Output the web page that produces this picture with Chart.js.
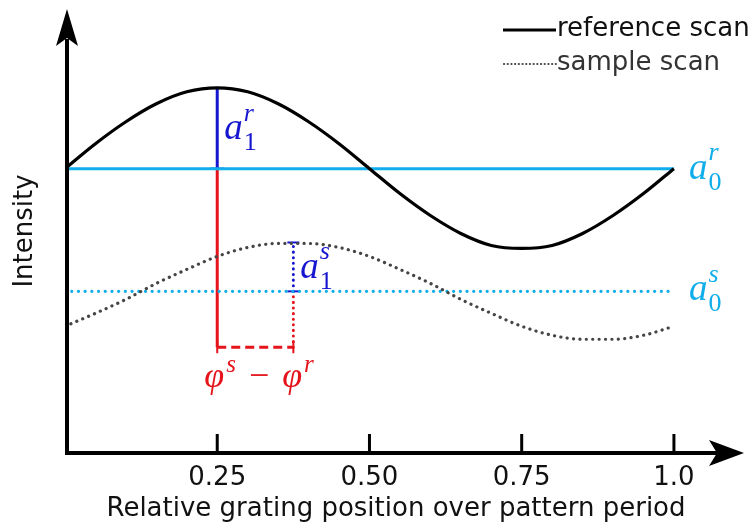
<!DOCTYPE html>
<html>
<head>
<meta charset="utf-8">
<title>Reference and sample scan</title>
<script src="https://cdn.jsdelivr.net/npm/chart.js@4.4.1/dist/chart.umd.min.js"></script>
<style>
    body { margin: 0; background: #ffffff; }
    #scanChart { display: block; }
</style>
</head>
<body>
<canvas id="scanChart" width="756" height="527"></canvas>
<script>
// Chart data
const scanPositions = [0, 0.05, 0.10, 0.15, 0.20, 0.25, 0.30, 0.35, 0.40, 0.45, 0.50,
                       0.55, 0.60, 0.65, 0.70, 0.75, 0.80, 0.85, 0.90, 0.95, 1.00];
const referenceScan = [2.85, 3.10, 3.32, 3.50, 3.62, 3.66, 3.62, 3.50, 3.32, 3.10, 2.85,
                       2.60, 2.38, 2.20, 2.08, 2.05, 2.08, 2.20, 2.38, 2.60, 2.85];
const sampleScan = [1.27, 1.40, 1.54, 1.70, 1.84, 1.97, 2.06, 2.10, 2.10, 2.06, 1.97,
                    1.84, 1.70, 1.54, 1.40, 1.27, 1.18, 1.14, 1.14, 1.18, 1.27];

// offset (a0) and peak (a0 + a1) levels: [reference, sample]
const offsetLevels = [2.85, 1.62];
const peakLevels = [3.66, 2.11];
const peakPositions = [0.25, 0.375];
const phaseLevel = 1.06;

const xTickValues = [0.25, 0.50, 0.75, 1.0];
const xTickLabels = ['0.25', '0.50', '0.75', '1.0'];
const legendLabels = ['reference scan', 'sample scan'];

// Colours
const CYAN = '#0fadea';
const BLUE = '#1616cf';
const RED = '#e5141b';
const SAMPLE_GREY = '#454545';
const SANS = '"DejaVu Sans", sans-serif';
const SERIF = '"Liberation Serif", "DejaVu Serif", serif';

/**
 * Build {x, y} points from two arrays
 */
function toPoints(xs, ys) {
    return xs.map((x, i) => ({ x: x, y: ys[i] }));
}

/**
 * Draw a symbol with sub- and superscript (e.g. a_0^r)
 */
function drawSymbol(ctx, x, baseline, base, sub, sup, color, size) {
    ctx.fillStyle = color;
    ctx.textAlign = 'left';
    ctx.textBaseline = 'alphabetic';
    ctx.font = 'italic ' + size + 'px ' + SERIF;
    ctx.fillText(base, x, baseline);
    const w = ctx.measureText(base).width;
    const small = Math.round(size * 0.7);
    if (sup) {
        ctx.font = 'italic ' + small + 'px ' + SERIF;
        ctx.fillText(sup, x + w + 1, baseline - size * 0.5);
    }
    if (sub) {
        ctx.font = small + 'px ' + SERIF;
        ctx.fillText(sub, x + w + 1, baseline + size * 0.3);
    }
}

// Axes, ticks, labels, legend and annotations
const decorations = {
    id: 'decorations',
    afterDatasetsDraw(chart) {
        const ctx = chart.ctx;
        const xs = chart.scales.x;
        const ys = chart.scales.y;
        const area = chart.chartArea;
        const ox = xs.getPixelForValue(0) + 2;
        const oy = ys.getPixelForValue(0);

        ctx.save();

        // axes
        ctx.strokeStyle = '#000';
        ctx.fillStyle = '#000';
        ctx.lineWidth = 4;
        ctx.lineJoin = 'miter';
        ctx.beginPath();
        ctx.moveTo(ox, area.top + 30);
        ctx.lineTo(ox, oy);
        ctx.lineTo(area.right - 30, oy);
        ctx.stroke();

        // arrow heads
        ctx.beginPath();
        ctx.moveTo(ox, area.top);
        ctx.lineTo(ox + 11, area.top + 37);
        ctx.lineTo(ox, area.top + 29);
        ctx.lineTo(ox - 11, area.top + 37);
        ctx.closePath();
        ctx.fill();
        const tipX = area.right - 3;
        ctx.beginPath();
        ctx.moveTo(tipX, oy);
        ctx.lineTo(tipX - 35, oy - 13);
        ctx.lineTo(tipX - 27, oy);
        ctx.lineTo(tipX - 35, oy + 13);
        ctx.closePath();
        ctx.fill();

        // ticks and tick labels
        ctx.lineWidth = 3;
        ctx.font = '26px ' + SANS;
        ctx.textAlign = 'center';
        ctx.textBaseline = 'middle';
        xTickValues.forEach((v, i) => {
            const px = xs.getPixelForValue(v);
            ctx.beginPath();
            ctx.moveTo(px, oy);
            ctx.lineTo(px, oy - 19);
            ctx.stroke();
            ctx.fillStyle = '#111';
            ctx.fillText(xTickLabels[i], px, oy + 25);
        });

        // axis titles
        ctx.fillStyle = '#111';
        ctx.fillText('Relative grating position over pattern period', 396, oy + 56);
        ctx.save();
        ctx.translate(25, (area.top + oy) / 2);
        ctx.rotate(-Math.PI / 2);
        ctx.fillText('Intensity', 0, 0);
        ctx.restore();

        // legend
        ctx.textAlign = 'left';
        ctx.lineCap = 'butt';
        ctx.strokeStyle = '#000';
        ctx.lineWidth = 3;
        ctx.beginPath();
        ctx.moveTo(503, 30);
        ctx.lineTo(556, 30);
        ctx.stroke();
        ctx.strokeStyle = SAMPLE_GREY;
        ctx.lineWidth = 2.2;
        ctx.lineCap = 'round';
        ctx.setLineDash([0.1, 3.6]);
        ctx.beginPath();
        ctx.moveTo(504, 64);
        ctx.lineTo(556, 64);
        ctx.stroke();
        ctx.setLineDash([]);
        ctx.fillStyle = '#111';
        ctx.fillText(legendLabels[0], 557, 29);
        ctx.fillStyle = '#333';
        ctx.fillText(legendLabels[1], 557, 63);

        // amplitude / offset symbols
        const refX = xs.getPixelForValue(peakPositions[0]);
        const smpX = xs.getPixelForValue(peakPositions[1]);
        const endX = xs.getPixelForValue(1.0);
        const midRef = (ys.getPixelForValue(peakLevels[0]) + ys.getPixelForValue(offsetLevels[0])) / 2;
        const midSmp = (ys.getPixelForValue(peakLevels[1]) + ys.getPixelForValue(offsetLevels[1])) / 2;
        drawSymbol(ctx, refX + 7, midRef + 11, 'a', '1', 'r', BLUE, 37);
        drawSymbol(ctx, smpX + 7, midSmp + 11, 'a', '1', 's', BLUE, 37);
        drawSymbol(ctx, endX + 15, ys.getPixelForValue(offsetLevels[0]) + 10, 'a', '0', 'r', CYAN, 37);
        drawSymbol(ctx, endX + 15, ys.getPixelForValue(offsetLevels[1]) + 9, 'a', '0', 's', CYAN, 37);

        // phase difference label
        let lx = refX - 13;
        const lb = ys.getPixelForValue(phaseLevel) + 40;
        ctx.fillStyle = RED;
        ctx.font = 'italic 36px ' + SERIF;
        ctx.fillText('\u03c6', lx, lb);
        lx += ctx.measureText('\u03c6').width + 2;
        ctx.font = 'italic 25px ' + SERIF;
        ctx.fillText('s', lx, lb - 15);
        lx += ctx.measureText('s').width + 13;
        ctx.font = '36px ' + SERIF;
        ctx.fillText('\u2212', lx, lb);
        lx += ctx.measureText('\u2212').width + 13;
        ctx.font = 'italic 36px ' + SERIF;
        ctx.fillText('\u03c6', lx, lb);
        lx += ctx.measureText('\u03c6').width + 2;
        ctx.font = 'italic 25px ' + SERIF;
        ctx.fillText('r', lx, lb - 15);

        ctx.restore();
    }
};

const ctx = document.getElementById('scanChart').getContext('2d');

new Chart(ctx, {
    type: 'line',
    data: {
        datasets: [
            {
                label: legendLabels[0],
                data: toPoints(scanPositions, referenceScan),
                borderColor: '#000',
                borderWidth: 3.2,
                pointRadius: 0,
                cubicInterpolationMode: 'monotone'
            },
            {
                label: legendLabels[1],
                data: toPoints(scanPositions, sampleScan),
                borderColor: SAMPLE_GREY,
                borderWidth: 3.2,
                borderDash: [0.1, 6.3],
                borderCapStyle: 'round',
                pointRadius: 0,
                cubicInterpolationMode: 'monotone'
            },
            {
                // a0 reference
                data: toPoints([0, 1.0], [offsetLevels[0], offsetLevels[0]]),
                borderColor: CYAN,
                borderWidth: 3,
                pointRadius: 0
            },
            {
                // a0 sample
                data: toPoints([0, 1.0], [offsetLevels[1], offsetLevels[1]]),
                borderColor: CYAN,
                borderWidth: 3.2,
                borderDash: [0.1, 6.6],
                borderCapStyle: 'round',
                pointRadius: 0
            },
            {
                // a1 reference
                data: toPoints([peakPositions[0], peakPositions[0]], [offsetLevels[0], peakLevels[0]]),
                borderColor: BLUE,
                borderWidth: 3,
                pointStyle: 'line',
                pointRadius: [7, 0],
                pointBorderWidth: 2,
                pointBorderColor: BLUE
            },
            {
                // a1 sample
                data: toPoints([peakPositions[1], peakPositions[1]], [offsetLevels[1], peakLevels[1]]),
                borderColor: BLUE,
                borderWidth: 3,
                borderDash: [0.1, 5.5],
                borderCapStyle: 'round',
                pointStyle: 'line',
                pointRadius: 6,
                pointBorderWidth: 2,
                pointBorderColor: BLUE
            },
            {
                // reference phase marker
                data: toPoints([peakPositions[0], peakPositions[0]], [phaseLevel, offsetLevels[0]]),
                borderColor: RED,
                borderWidth: 3,
                pointRadius: 0
            },
            {
                // sample phase marker
                data: toPoints([peakPositions[1], peakPositions[1]], [phaseLevel, offsetLevels[1]]),
                borderColor: RED,
                borderWidth: 3,
                borderDash: [0.1, 5.5],
                borderCapStyle: 'round',
                pointRadius: 0
            },
            {
                // phase difference
                data: toPoints(peakPositions, [phaseLevel, phaseLevel]),
                borderColor: RED,
                borderWidth: 3,
                borderDash: [9, 5],
                pointStyle: 'line',
                rotation: 90,
                pointRadius: 6,
                pointBorderWidth: 2,
                pointBorderColor: RED
            }
        ]
    },
    options: {
        responsive: false,
        animation: false,
        events: [],
        layout: {
            padding: { left: 65, top: 8, right: 0, bottom: 74 }
        },
        plugins: {
            legend: { display: false },
            tooltip: { enabled: false }
        },
        scales: {
            x: { type: 'linear', min: 0, max: 1.12, display: false },
            y: { type: 'linear', min: 0, max: 4.45, display: false }
        }
    },
    plugins: [decorations]
});
</script>
</body>
</html>
